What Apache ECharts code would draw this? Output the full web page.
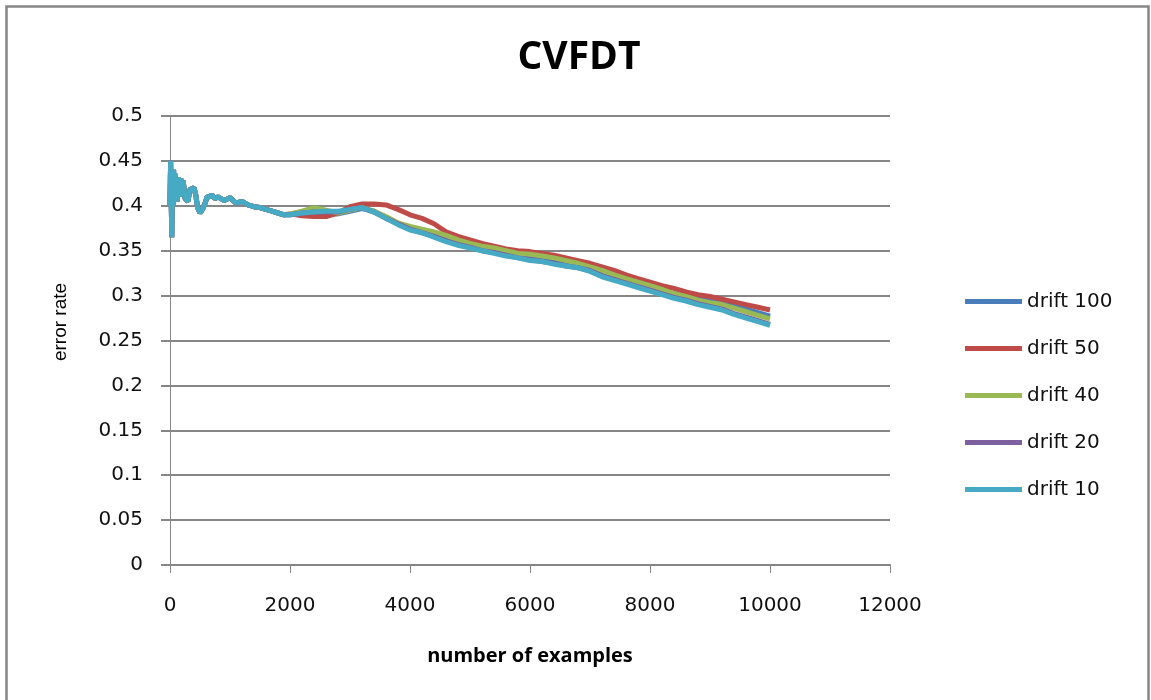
<!DOCTYPE html>
<html>
<head>
<meta charset="utf-8">
<title>CVFDT</title>
<script src="https://cdn.jsdelivr.net/npm/echarts@6/dist/echarts.min.js"></script>
<style>
  html, body { margin: 0; padding: 0; background: #fff; }
  #chart { width: 1151px; height: 700px; }
</style>
</head>
<body>
<div id="chart"></div>
<script>
// Number of examples seen (x positions of the samples)
const examples = [
  0, 10, 20, 30, 40, 50, 60, 70, 80, 90, 100, 120, 140, 160, 180, 200, 220, 250, 280, 300,
  330, 360, 400, 430, 460, 500, 540, 580, 620, 660, 700, 750, 800, 900, 1000, 1100, 1200,
  1300, 1400, 1500, 1600, 1700, 1800, 1900,
  2000, 2200, 2400, 2600, 2800, 3000, 3200, 3400, 3600, 3800, 4000, 4200, 4400, 4600, 4800,
  5000, 5200, 5400, 5600, 5800, 6000, 6200, 6400, 6600, 6800, 7000, 7200, 7400, 7600, 7800,
  8000, 8200, 8400, 8600, 8800, 9000, 9200, 9400, 9600, 9800, 10000
];

// Error rate during the first 1900 examples (identical for every drift setting)
const warmup = [
  0.40, 0.45, 0.448, 0.365, 0.43, 0.40, 0.44, 0.405, 0.436, 0.41, 0.43, 0.405, 0.432, 0.41,
  0.43, 0.42, 0.428, 0.408, 0.41, 0.405, 0.418, 0.416, 0.42, 0.412, 0.398, 0.392, 0.396,
  0.402, 0.41, 0.41, 0.412, 0.408, 0.41, 0.406, 0.409, 0.403, 0.405, 0.401, 0.399, 0.398,
  0.396, 0.394, 0.392, 0.39
];

// Error rate from 2000 examples onwards, per drift setting
const drift100 = warmup.concat([
  0.39, 0.391, 0.392, 0.392, 0.391, 0.394, 0.397, 0.394, 0.387, 0.38, 0.375, 0.372, 0.367,
  0.362, 0.358, 0.355, 0.352, 0.349, 0.346, 0.344, 0.342, 0.34, 0.338, 0.336, 0.333, 0.33,
  0.325, 0.321, 0.317, 0.313, 0.309, 0.305, 0.302, 0.299, 0.297, 0.295, 0.292, 0.289, 0.285,
  0.281, 0.277
]);
const drift50 = warmup.concat([
  0.391, 0.389, 0.388, 0.388, 0.392, 0.399, 0.402, 0.402, 0.401, 0.396, 0.39, 0.386, 0.38,
  0.371, 0.366, 0.362, 0.358, 0.355, 0.352, 0.35, 0.349, 0.347, 0.345, 0.342, 0.339, 0.336,
  0.332, 0.328, 0.323, 0.319, 0.315, 0.311, 0.308, 0.304, 0.301, 0.299, 0.296, 0.293, 0.29,
  0.287, 0.284
]);
const drift40 = warmup.concat([
  0.391, 0.394, 0.398, 0.395, 0.392, 0.395, 0.398, 0.394, 0.388, 0.381, 0.377, 0.374, 0.371,
  0.367, 0.362, 0.358, 0.355, 0.353, 0.35, 0.347, 0.346, 0.344, 0.342, 0.339, 0.336, 0.332,
  0.328, 0.323, 0.319, 0.315, 0.311, 0.307, 0.302, 0.299, 0.295, 0.292, 0.29, 0.286, 0.282,
  0.278, 0.274
]);
const drift20 = warmup.concat([
  0.39, 0.392, 0.393, 0.393, 0.393, 0.396, 0.398, 0.393, 0.386, 0.38, 0.374, 0.37, 0.366,
  0.361, 0.357, 0.354, 0.35, 0.348, 0.345, 0.342, 0.34, 0.338, 0.336, 0.333, 0.331, 0.328,
  0.322, 0.318, 0.314, 0.31, 0.306, 0.302, 0.298, 0.295, 0.291, 0.288, 0.285, 0.28, 0.276,
  0.272, 0.268
]);
const drift10 = warmup.concat([
  0.39, 0.392, 0.393, 0.394, 0.394, 0.396, 0.398, 0.393, 0.386, 0.379, 0.373, 0.37, 0.365,
  0.36, 0.356, 0.353, 0.35, 0.347, 0.344, 0.342, 0.339, 0.338, 0.335, 0.333, 0.331, 0.327,
  0.321, 0.317, 0.313, 0.309, 0.305, 0.301, 0.297, 0.294, 0.29, 0.287, 0.284, 0.279, 0.275,
  0.271, 0.267
]);

const seriesNames = ['drift 100', 'drift 50', 'drift 40', 'drift 20', 'drift 10'];
const seriesValues = [drift100, drift50, drift40, drift20, drift10];
const seriesColors = ['#4A7EBB', '#BE4B48', '#98B954', '#7D60A0', '#46AAC5'];

const axisGray = '#868686';

const chart = echarts.init(document.getElementById('chart'), null, { renderer: 'canvas' });

chart.setOption({
  animation: false,
  backgroundColor: '#ffffff',
  grid: { left: 170, right: 261, top: 116, bottom: 135 },
  xAxis: {
    type: 'value',
    min: 0,
    max: 12000,
    interval: 2000,
    axisLine: { show: true, lineStyle: { color: axisGray, width: 2 } },
    axisTick: { show: true, inside: false, length: 8, lineStyle: { color: axisGray, width: 1 } },
    splitLine: { show: false },
    axisLabel: {
      margin: 31,
      color: '#111',
      fontFamily: 'DejaVu Sans',
      fontSize: 20,
      formatter: v => String(v)
    }
  },
  yAxis: {
    type: 'value',
    min: 0,
    max: 0.5,
    interval: 0.05,
    axisLine: { show: true, lineStyle: { color: axisGray, width: 1 } },
    axisTick: { show: true, inside: false, length: 9, lineStyle: { color: axisGray, width: 2 } },
    splitLine: { show: true, lineStyle: { color: axisGray, width: 2 } },
    axisLabel: {
      margin: 27,
      color: '#111',
      fontFamily: 'DejaVu Sans',
      fontSize: 20,
      formatter: v => String(+v.toFixed(2))
    }
  },
  legend: {
    orient: 'vertical',
    left: 960,
    top: 286,
    icon: 'rect',
    itemWidth: 57,
    itemHeight: 5,
    itemGap: 26,
    data: seriesNames,
    textStyle: {
      color: '#111',
      fontFamily: 'DejaVu Sans',
      fontSize: 20,
      lineHeight: 21
    }
  },
  graphic: [
    {
      type: 'rect',
      silent: true,
      shape: { x: 6.5, y: 6.5, width: 1142, height: 720 },
      style: { fill: 'none', stroke: axisGray, lineWidth: 2.5 }
    },
    {
      type: 'text',
      silent: true,
      style: {
        text: 'CVFDT',
        x: 579, y: 58,
        textAlign: 'center',
        textVerticalAlign: 'middle',
        font: 'bold 39px "Open Sans"',
        fill: '#000'
      }
    },
    {
      type: 'text',
      silent: true,
      style: {
        text: 'number of examples',
        x: 530, y: 656,
        textAlign: 'center',
        textVerticalAlign: 'middle',
        font: 'bold 20px "Open Sans"',
        fill: '#000'
      }
    },
    {
      type: 'text',
      silent: true,
      x: 61, y: 322,
      rotation: Math.PI / 2,
      style: {
        text: 'error rate',
        x: 0, y: 0,
        textAlign: 'center',
        textVerticalAlign: 'middle',
        font: '19px "Liberation Sans"',
        fill: '#000'
      }
    }
  ],
  series: seriesNames.map((name, i) => ({
    name: name,
    type: 'line',
    showSymbol: false,
    symbol: 'none',
    color: seriesColors[i],
    lineStyle: { width: 5, color: seriesColors[i] },
    data: examples.map((x, j) => [x, seriesValues[i][j]])
  }))
});
</script>
</body>
</html>
